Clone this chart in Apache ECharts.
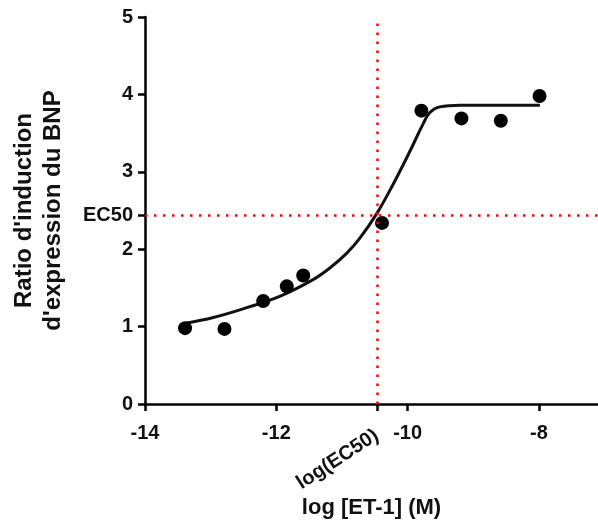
<!DOCTYPE html>
<html><head><meta charset="utf-8">
<script src="https://cdn.jsdelivr.net/npm/echarts@6/dist/echarts.min.js"></script>
<style>html,body{margin:0;padding:0;background:#fff}#c{width:598px;height:524px}</style>
</head><body><div id="c"></div>
<script>
// Measured data points: log [ET-1] (M) vs ratio
const pointX = [-13.39, -12.79, -12.2, -11.84, -11.59, -10.39, -9.79, -9.18, -8.58, -7.99];
const pointY = [0.98, 0.97, 1.33, 1.52, 1.66, 2.34, 3.79, 3.69, 3.66, 3.98];
// Fitted curve
const curveX = [-13.38, -12.96, -12.45, -11.94, -11.44, -11.18, -10.93, -10.73, -10.47, -10.22, -9.965, -9.76, -9.66, -9.51, -9.2, -7.985];
const curveY = [1.043, 1.117, 1.245, 1.394, 1.607, 1.76, 1.946, 2.14, 2.46, 2.84, 3.265, 3.626, 3.767, 3.839, 3.86, 3.86];
const ec50X = -10.47;
const ec50Y = 2.436;
const xTicks = [-14, -12, -10, -8];
const yTicks = [0, 1, 2, 3, 4, 5];
const xTitle = 'log [ET-1] (M)';
const yTitle = "Ratio d'induction\nd'expression du BNP";
const ec50Label = 'EC50';
const logEc50Label = 'log(EC50)';

const FONT = "'Liberation Sans', Arial, sans-serif";
const axisLineStyle = { color: '#000', width: 2.5 };
const chart = echarts.init(document.getElementById('c'), null, { renderer: 'canvas' });
chart.setOption({
  animation: false,
  backgroundColor: '#fff',
  grid: { left: 145, right: 0, top: 17, bottom: 115, containLabel: false },
  xAxis: [{
    type: 'value', min: -14, max: -7.1,
    axisLine: { show: true, lineStyle: axisLineStyle, onZero: false },
    axisTick: { show: true, length: 7, lineStyle: axisLineStyle, customValues: xTicks.concat([ec50X]) },
    axisLabel: { customValues: xTicks, margin: 19, fontSize: 20, fontWeight: 'bold', color: '#111', fontFamily: FONT },
    splitLine: { show: false },
    name: xTitle, nameLocation: 'middle', nameGap: 93,
    nameTextStyle: { fontSize: 22, fontWeight: 'bold', color: '#111', fontFamily: FONT }
  }, {
    type: 'value', min: -14, max: -7.1, position: 'bottom',
    axisLine: { show: false }, axisTick: { show: false }, splitLine: { show: false },
    axisLabel: { customValues: [ec50X], formatter: () => logEc50Label, rotate: 33, margin: 30,
      fontSize: 20, fontWeight: 'bold', color: '#111', fontFamily: FONT }
  }],
  yAxis: {
    type: 'value', min: 0, max: 5,
    axisLine: { show: true, lineStyle: axisLineStyle, onZero: false },
    axisTick: { show: true, length: 7, lineStyle: axisLineStyle, customValues: yTicks.concat([ec50Y]) },
    axisLabel: { customValues: yTicks.concat([ec50Y]), margin: 12, fontSize: 20, fontWeight: 'bold', color: '#111', fontFamily: FONT,
      formatter: v => (Math.abs(v - ec50Y) < 1e-6 ? ec50Label : String(v)) },
    splitLine: { show: false },
    name: yTitle, nameLocation: 'middle', nameGap: 77,
    nameTextStyle: { fontSize: 24, lineHeight: 29, fontWeight: 'bold', color: '#111', fontFamily: FONT, align: 'center' }
  },
  series: [{
    type: 'line', xAxisIndex: 0,
    data: curveX.map((x, i) => [x, curveY[i]]),
    smooth: 0.4, showSymbol: false, symbol: 'none',
    lineStyle: { color: '#111', width: 3 },
    markLine: {
      silent: true, symbol: 'none', label: { show: false },
      lineStyle: { color: '#ff0000', type: [2.5, 6.5], width: 2.5 },
      data: [{ xAxis: ec50X }, { yAxis: ec50Y }]
    },
    z: 3
  }, {
    type: 'scatter', xAxisIndex: 0,
    data: pointX.map((x, i) => [x, pointY[i]]),
    symbol: 'circle', symbolSize: 14,
    itemStyle: { color: '#000', opacity: 1 },
    z: 4
  }]
});
</script>
</body></html>
